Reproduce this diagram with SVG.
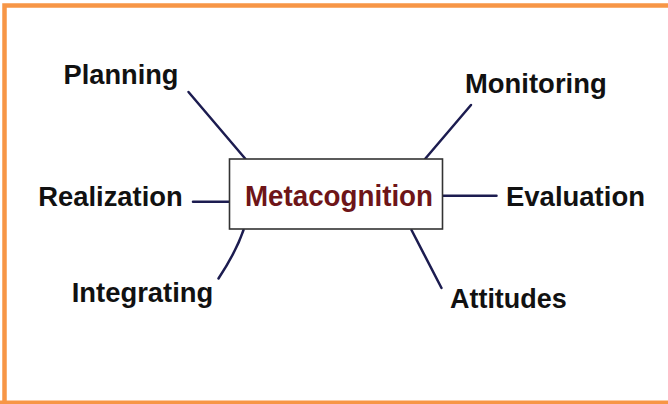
<svg xmlns="http://www.w3.org/2000/svg" width="668" height="404" viewBox="0 0 668 404">
  <style>
    .lbl { font-family: "Liberation Sans", Arial, sans-serif; font-weight: bold; font-size: 27.5px; fill: #111; }
    .main { font-family: "Liberation Sans", Arial, sans-serif; font-weight: bold; font-size: 30px; fill: #6e1518; }
    .conn { stroke: #1c1c50; stroke-width: 2.5; fill: none; stroke-linecap: round; }
  </style>
  <rect x="0" y="0" width="668" height="404" fill="#fff"/>
  <path d="M4.5 404 V5.5 H668" fill="none" stroke="#f79646" stroke-width="4.5"/>
  <line x1="0" y1="402.3" x2="668" y2="402.3" stroke="#f79646" stroke-width="3.4"/>
  <g id="connectors">
    <line class="conn" x1="188.5" y1="92" x2="245.5" y2="159"/>
    <line class="conn" x1="471" y1="105" x2="425" y2="159"/>
    <line class="conn" x1="193" y1="201.7" x2="229.5" y2="201.7"/>
    <line class="conn" x1="443" y1="195.7" x2="496.5" y2="195.7"/>
    <path class="conn" d="M243.5 230 Q236 252 218.5 278.5"/>
    <line class="conn" x1="411.5" y1="230" x2="441.5" y2="288"/>
  </g>
  <g id="metacognition">
    <rect x="229.5" y="159" width="213" height="70" fill="#fff" stroke="#333" stroke-width="1.6"/>
    <text class="main" x="245" y="206" textLength="188" lengthAdjust="spacingAndGlyphs">Metacognition</text>
  </g>
  <g id="planning"><text class="lbl" x="63.5" y="84.3" textLength="115" lengthAdjust="spacingAndGlyphs">Planning</text></g>
  <g id="monitoring"><text class="lbl" x="465" y="92.7" textLength="141.7" lengthAdjust="spacingAndGlyphs">Monitoring</text></g>
  <g id="realization"><text class="lbl" x="38.3" y="205.7" textLength="144.4" lengthAdjust="spacingAndGlyphs">Realization</text></g>
  <g id="evaluation"><text class="lbl" x="506" y="205.7" textLength="139" lengthAdjust="spacingAndGlyphs">Evaluation</text></g>
  <g id="integrating"><text class="lbl" x="71.7" y="301.7" textLength="141.6" lengthAdjust="spacingAndGlyphs">Integrating</text></g>
  <g id="attitudes"><text class="lbl" x="450" y="308.3" textLength="116.7" lengthAdjust="spacingAndGlyphs">Attitudes</text></g>
</svg>
